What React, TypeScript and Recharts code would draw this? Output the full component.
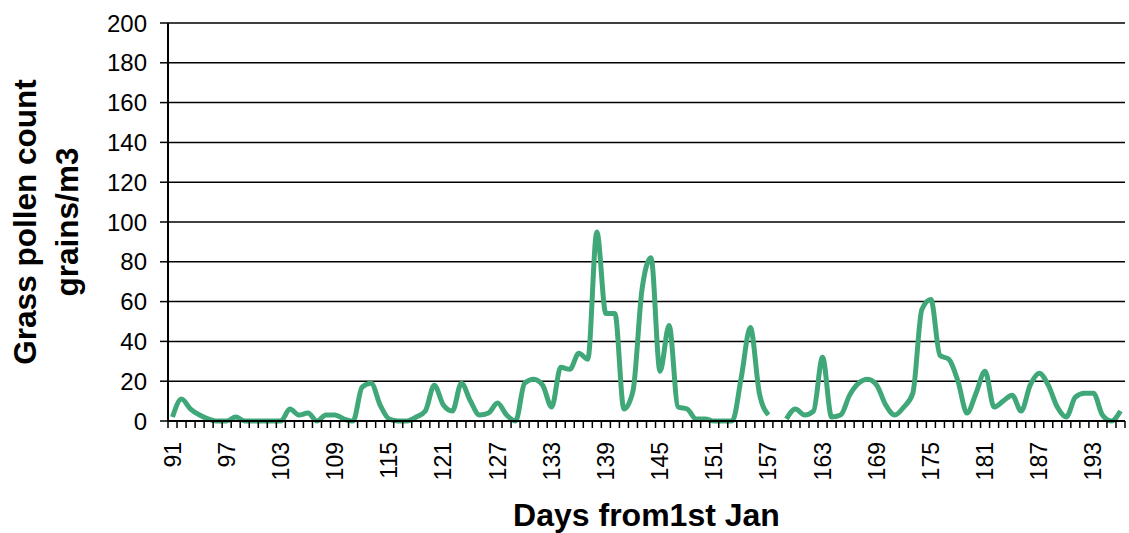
import { LineChart, Line, XAxis, YAxis, CartesianGrid, Label } from "recharts";

// days from 1st Jan, one category each
const days = [
  91, 92, 93, 94, 95, 96, 97, 98, 99, 100, 101, 102, 103, 104, 105, 106, 107, 108, 109, 110,
  111, 112, 113, 114, 115, 116, 117, 118, 119, 120, 121, 122, 123, 124, 125, 126, 127, 128, 129, 130,
  131, 132, 133, 134, 135, 136, 137, 138, 139, 140, 141, 142, 143, 144, 145, 146, 147, 148, 149, 150,
  151, 152, 153, 154, 155, 156, 157, 158, 159, 160, 161, 162, 163, 164, 165, 166, 167, 168, 169, 170,
  171, 172, 173, 174, 175, 176, 177, 178, 179, 180, 181, 182, 183, 184, 185, 186, 187, 188, 189, 190,
  191, 192, 193, 194, 195, 196,
];

// grains/m3, null = missing day
const pollen = [
  2, 11, 6, 3, 1, 0, 0, 2, 0, 0, 0, 0, 0, 6, 3, 4, 0, 3, 3, 1,
  0, 17, 19, 8, 1, 0, 0, 2, 5, 18, 8, 5, 19, 10, 3, 4, 9, 3, 0, 19,
  21, 18, 7, 27, 26, 34, 31, 95, 54, 54, 6, 15, 66, 82, 25, 48, 7, 6, 1, 1,
  0, 0, 0, 22, 47, 14, 3, null, 1, 6, 3, 5, 32, 2, 3, 13, 19, 21, 18, 8,
  3, 7, 14, 56, 61, 33, 31, 20, 4, 14, 25, 7, 10, 13, 5, 18, 24, 18, 7, 2,
  12, 14, 14, 3, 0, 5,
];

const yTicks = [0, 20, 40, 60, 80, 100, 120, 140, 160, 180, 200];
const labelEvery = 6;

const data = days.map((d, i) => ({ day: d, count: pollen[i] }));

const FONT = "'Liberation Sans', Arial, sans-serif";

function DayTick(props: any) {
  const { x, y, payload, index, width } = props;
  const band = width / days.length;
  const last = index === days.length - 1;
  return (
    <g>
      <line x1={x - band / 2} y1={y} x2={x - band / 2} y2={y + 7} stroke="#000" strokeWidth={1.5} />
      {last && <line x1={x + band / 2} y1={y} x2={x + band / 2} y2={y + 7} stroke="#000" strokeWidth={1.5} />}
      {index % labelEvery === 0 && (
        <text
          x={0}
          y={0}
          transform={`translate(${x},${y + 21}) rotate(-90)`}
          textAnchor="end"
          dominantBaseline="central"
          fontSize={23}
          fontFamily={FONT}
          fill="#000"
        >
          {payload.value}
        </text>
      )}
    </g>
  );
}

function YTitle(props: any) {
  const vb = props.viewBox;
  const cy = vb.y + vb.height / 2;
  return (
    <g fontFamily={FONT} fontWeight="bold" fontSize={31.5} fill="#000" textAnchor="middle">
      <text transform={`translate(${vb.x + 25},${cy}) rotate(-90)`} dominantBaseline="central">
        Grass pollen count
      </text>
      <text transform={`translate(${vb.x + 67},${cy}) rotate(-90)`} dominantBaseline="central">
        grains/m3
      </text>
    </g>
  );
}

function XTitle(props: any) {
  const vb = props.viewBox;
  return (
    <text
      x={vb.x + vb.width / 2}
      y={515}
      textAnchor="middle"
      dominantBaseline="central"
      fontFamily={FONT}
      fontWeight="bold"
      fontSize={32}
      fill="#000"
    >
      Days from1st Jan
    </text>
  );
}

export default function App() {
  return (
    <div style={{ position: "absolute", left: 0, top: 0, width: 1129, height: 533, background: "#fff" }}>
      <LineChart width={1129} height={533} data={data} margin={{ top: 23, right: 4, left: 0, bottom: 0 }}>
        <CartesianGrid horizontal vertical={false} stroke="#000" strokeWidth={1.5} strokeOpacity={1} />
        <XAxis
          dataKey="day"
          scale="band"
          interval={0}
          height={112}
          tickSize={0}
          tickMargin={0}
          tickLine={false}
          axisLine={{ stroke: "#000", strokeWidth: 2 }}
          tick={<DayTick />}
        >
          <Label content={<XTitle />} />
        </XAxis>
        <YAxis
          domain={[0, 200]}
          ticks={yTicks}
          width={168}
          tickSize={8}
          tickMargin={13}
          interval={0}
          axisLine={{ stroke: "#000", strokeWidth: 2 }}
          tickLine={{ stroke: "#000", strokeWidth: 1.5 }}
          tick={{ fontSize: 24, fill: "#000", fontFamily: FONT }}
        >
          <Label content={<YTitle />} />
        </YAxis>
        <Line
          type="monotone"
          dataKey="count"
          stroke="#40A878"
          strokeWidth={5}
          dot={false}
          isAnimationActive={false}
        />
      </LineChart>
    </div>
  );
}
